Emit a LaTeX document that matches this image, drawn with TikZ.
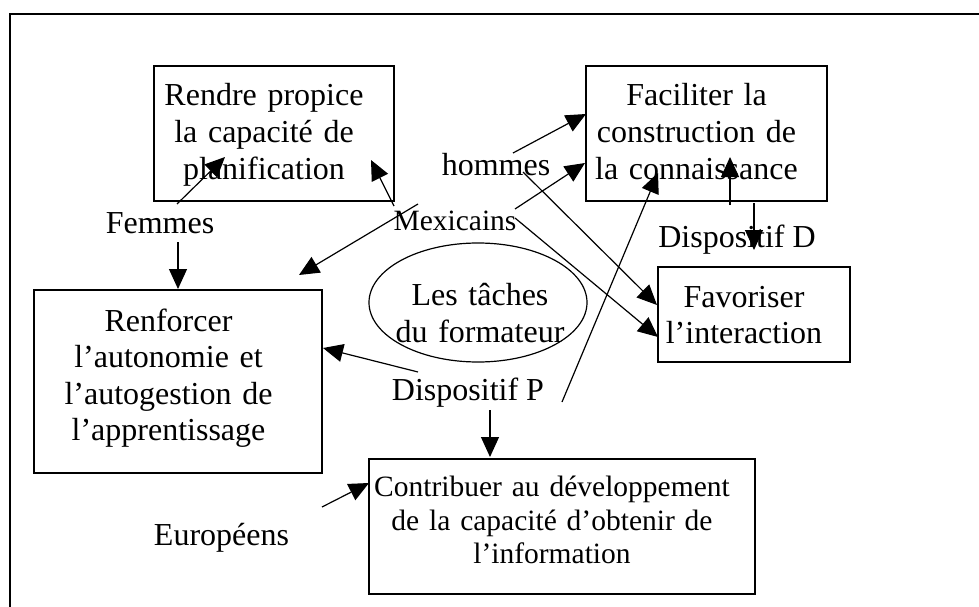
\documentclass[tikz,border=0pt]{standalone}
\usepackage{fontspec}
\setmainfont{Liberation Serif}
\usetikzlibrary{arrows.meta,shapes.geometric}
\begin{document}
\begin{tikzpicture}[x=1pt,y=-1pt,
  box/.style={draw, line width=1.5pt, inner sep=0pt},
  txt/.style={inner sep=0pt, anchor=base, align=center, font=\fontsize{32}{37}\selectfont},
  lbl/.style={inner sep=0pt, anchor=base, font=\fontsize{32}{37}\selectfont},
  arr/.style={line width=1.2pt, -{Triangle[length=20pt,width=18pt]}}]
\useasboundingbox (0,0) rectangle (979,607);
\clip (0,0) rectangle (979,607);
\draw[line width=1.6pt] (10,14) rectangle (1000,640);

% boxes
\node[box, minimum width=240pt, minimum height=135pt] (rendre) at (274,133.5) {};
\node[box, minimum width=241pt, minimum height=135pt] (faciliter) at (706.5,133.5) {};
\node[box, minimum width=288pt, minimum height=183pt] (renforcer) at (178,381.5) {};
\node[box, minimum width=192pt, minimum height=95pt] (favoriser) at (754,314.5) {};
\node[box, minimum width=386pt, minimum height=135pt] (contribuer) at (562,526.5) {};
\node[draw, ellipse, line width=1.2pt, inner sep=0pt, minimum width=218pt, minimum height=119pt] (taches) at (478,302.5) {};

% box texts
\node[txt, text width=236pt] (rendreT) at (264,106) {Rendre propice\\la capacité de\\planification};
\node[txt, text width=236pt] (faciliterT) at (696.5,106) {Faciliter la\\construction de\\la connaissance};
\node[txt, text width=284pt, font=\fontsize{32}{36.5}\selectfont] (renforcerT) at (168.5,331) {Renforcer\\l’autonomie et\\l’autogestion de\\l’apprentissage};
\node[txt, text width=188pt, font=\fontsize{32}{36}\selectfont] (favoriserT) at (744,307) {Favoriser\\l’interaction};
\node[txt, text width=380pt, font=\fontsize{29.5}{33.5}\selectfont] (contribuerT) at (552,496.5) {Contribuer au développement\\de la capacité d’obtenir de\\l’information};
\node[txt, text width=214pt, font=\fontsize{32}{36.5}\selectfont] (tachesT) at (480,305.5) {Les tâches\\du formateur};

% labels
\node[lbl] (femmes) at (160,233) {Femmes};
\node[lbl, font=\fontsize{29.5}{34}\selectfont] (mexicains) at (455,230) {Mexicains};
\node[lbl] (hommes) at (496,175) {hommes};
\node[lbl] (dispD) at (737,247) {Dispositif D};
\node[lbl] (dispP) at (468,400) {Dispositif P};
\node[lbl] (europeens) at (221.5,545) {Européens};

% connector end points
\coordinate (a1s) at (177,204);  \coordinate (a1e) at (225,157);
\coordinate (a2s) at (394,206);  \coordinate (a2e) at (371,160);
\coordinate (a3s) at (418,204);  \coordinate (a3e) at (299,275);
\coordinate (a4s) at (178,242);  \coordinate (a4e) at (178,289);
\coordinate (a5s) at (513,153);  \coordinate (a5e) at (586,114);
\coordinate (a6s) at (515,209);  \coordinate (a6e) at (585,163);
\coordinate (a7s) at (523,172);  \coordinate (a7e) at (657,305);
\coordinate (a8s) at (515,218);  \coordinate (a8e) at (658,337);
\coordinate (a9s) at (562,402);  \coordinate (a9e) at (658,173);
\coordinate (a10s) at (730,205); \coordinate (a10e) at (730,157);
\coordinate (a11s) at (754,203); \coordinate (a11e) at (754,250);
\coordinate (a12s) at (418,372); \coordinate (a12e) at (323,348);
\coordinate (a13s) at (490,410); \coordinate (a13e) at (490,457);
\coordinate (a14s) at (322,507); \coordinate (a14e) at (369,483);

\draw[arr] (a1s) -- (a1e);
\draw[arr] (a2s) -- (a2e);
\draw[arr] (a3s) -- (a3e);
\draw[arr] (a4s) -- (a4e);
\draw[arr] (a5s) -- (a5e);
\draw[arr] (a6s) -- (a6e);
\draw[arr] (a7s) -- (a7e);
\draw[arr] (a8s) -- (a8e);
\draw[arr] (a9s) -- (a9e);
\draw[arr] (a10s) -- (a10e);
\draw[arr] (a11s) -- (a11e);
\draw[arr] (a12s) -- (a12e);
\draw[arr] (a13s) -- (a13e);
\draw[arr] (a14s) -- (a14e);
\end{tikzpicture}
\end{document}
